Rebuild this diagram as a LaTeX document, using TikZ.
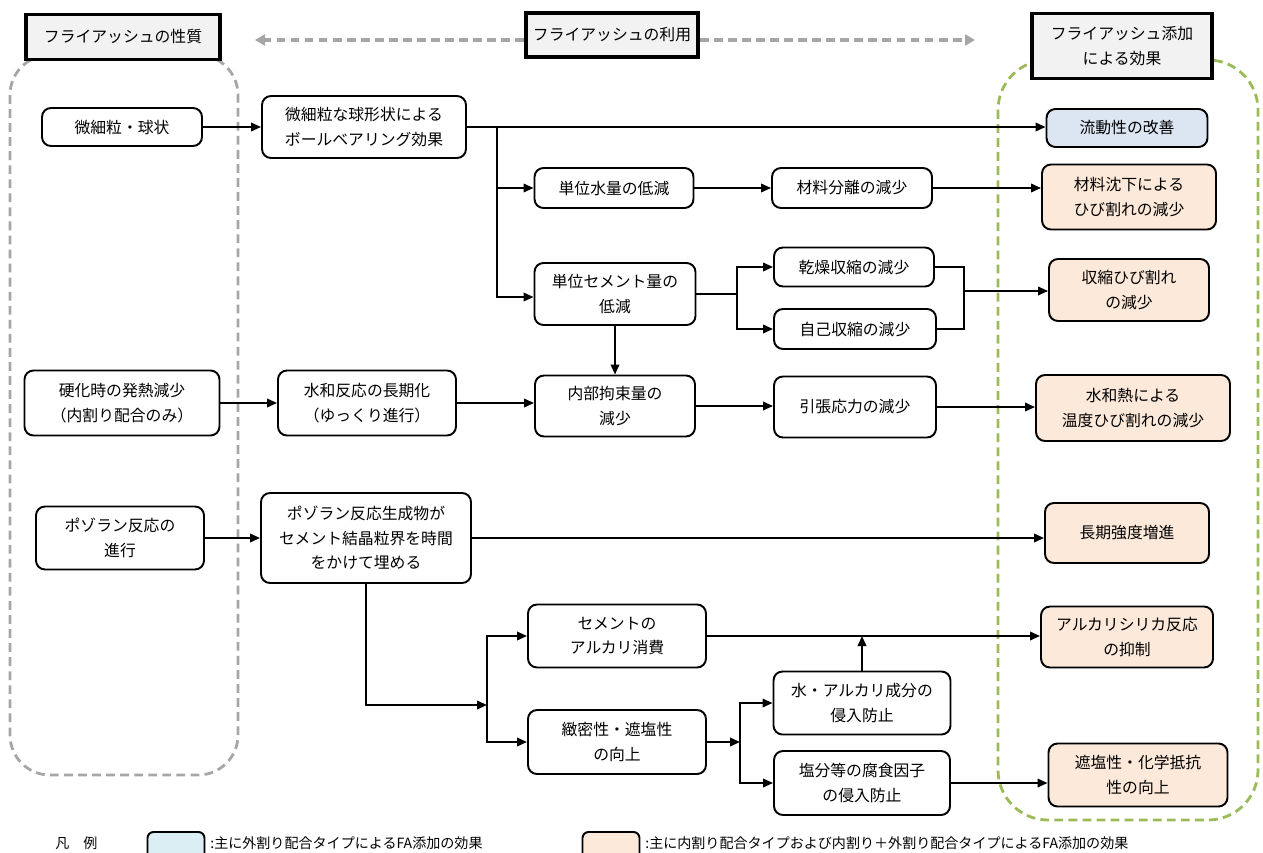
\documentclass[tikz,border=0pt]{standalone}
\usepackage{fontspec}
\setmainfont{Noto Sans CJK JP}
\usetikzlibrary{arrows.meta}
\definecolor{hdrfill}{HTML}{F2F2F2}
\definecolor{bluefill}{HTML}{DCE6F2}
\definecolor{legblue}{HTML}{DBEEF4}
\definecolor{peach}{HTML}{FDE9D9}
\definecolor{greendash}{HTML}{9BBB59}
\definecolor{graydash}{HTML}{A6A6A6}
\tikzset{
  sz/.style 2 args={minimum width=#1*0.02cm, minimum height=#2*0.02cm},
  box/.style={draw=black, line width=1.1pt, rounded corners=0.18cm, fill=white,
    align=center, inner sep=0pt, font=\fontsize{9}{14}\selectfont},
  hdr/.style={draw=black, line width=2pt, fill=hdrfill, align=center, inner sep=0pt,
    font=\fontsize{9}{14}\selectfont},
  conn/.style={line width=1.1pt, draw=black},
  arr/.style={conn, -{Triangle[length=2mm,width=1.7mm]}},
  grayarr/.style={draw=graydash, line width=2pt, dash pattern=on 5pt off 3pt,
    -{Triangle[length=2mm,width=2.2mm]}},
  legtext/.style={anchor=west, inner sep=0pt, font=\fontsize{8}{10}\selectfont},
}
\begin{document}
\begin{tikzpicture}[x=0.02cm,y=-0.02cm]
\useasboundingbox (0,0) rectangle (1263,852);
% containers
\draw[graydash, line width=1.6pt, dash pattern=on 5pt off 3pt, rounded corners=0.8cm] (10,55) rectangle (238,775);
\draw[greendash, line width=1.6pt, dash pattern=on 5pt off 3pt, rounded corners=1cm] (998,60) rectangle (1258,820);
% headers
\node[hdr, sz={194}{45}] (H1) at (123,37) {フライアッシュの性質};
\node[hdr, sz={172}{44}] (H2) at (612,35) {フライアッシュの利用};
\node[hdr, sz={180}{65}] (H3) at (1122,46) {フライアッシュ添加\\による効果};
\coordinate (ga) at (255,40);
\coordinate (gb) at (975,40);
\draw[grayarr] (H2.west |- ga) -- (ga);
\draw[grayarr] (H2.east |- gb) -- (gb);
% nodes
\node[box, sz={160}{38}] (A1) at (122,127) {微細粒・球状};
\node[box, sz={204}{62}] (B1) at (364,127) {微細粒な球形状による\\ボールベアリング効果};
\node[box, sz={161}{38}, fill=bluefill] (E1) at (1127,128) {流動性の改善};
\node[box, sz={159}{40}] (C1) at (614,188) {単位水量の低減};
\node[box, sz={160}{40}] (D1) at (852,188) {材料分離の減少};
\node[box, sz={174}{65}, fill=peach] (E2) at (1129,197) {材料沈下による\\ひび割れの減少};
\node[box, sz={161}{62}] (C2) at (615,294) {単位セメント量の\\低減};
\node[box, sz={160}{39}] (D2) at (854,267) {乾燥収縮の減少};
\node[box, sz={162}{40}] (D3) at (855,329) {自己収縮の減少};
\node[box, sz={160}{62}, fill=peach] (E3) at (1129,290) {収縮ひび割れ\\の減少};
\node[box, sz={195}{65}] (A2) at (122,403) {硬化時の発熱減少\\（内割り配合のみ）};
\node[box, sz={178}{65}] (B2) at (367,403) {水和反応の長期化\\（ゆっくり進行）};
\node[box, sz={160}{61}] (C3) at (615,406) {内部拘束量の\\減少};
\node[box, sz={162}{61}] (D4) at (855,407) {引張応力の減少};
\node[box, sz={194}{66}, fill=peach] (E4) at (1133,408) {水和熱による\\温度ひび割れの減少};
\node[box, sz={168}{63}] (A3) at (120,538) {ポゾラン反応の\\進行};
\node[box, sz={210}{90}] (B3) at (366,538) {ポゾラン反応生成物が\\セメント結晶粒界を時間\\をかけて埋める};
\node[box, sz={164}{60}, fill=peach] (E5) at (1127,533) {長期強度増進};
\node[box, sz={178}{63}] (C4) at (617,636) {セメントの\\アルカリ消費};
\node[box, sz={172}{61}, fill=peach] (E6) at (1127,637) {アルカリシリカ反応\\の抑制};
\node[box, sz={177}{63}] (D5) at (862,703) {水・アルカリ成分の\\侵入防止};
\node[box, sz={178}{64}] (C5) at (617,742) {緻密性・遮塩性\\の向上};
\node[box, sz={176}{64}] (D6) at (862,783) {塩分等の腐食因子\\の侵入防止};
\node[box, sz={179}{63}, fill=peach] (E7) at (1138,775) {遮塩性・化学抵抗\\性の向上};
% connectors
\draw[arr] (A1.east) -- (A1.east -| B1.west);
\draw[arr] (B1.east) -- (B1.east -| E1.west);
\coordinate (j1) at (497,127);
\draw[arr] (j1) |- (C1.west);
\draw[arr] (j1) |- ([yshift=-3*0.02cm]C2.west);
\draw[arr] (C1.east) -- (D1.west);
\draw[arr] (D1.east) -- (D1.east -| E2.west);
\coordinate (j2) at (737,294);
\draw[conn] (C2.east) -- (j2);
\draw[arr] (j2) |- (D2.west);
\draw[arr] (j2) |- (D3.west);
\coordinate (j3) at (964,291);
\draw[conn] (D2.east) -| (j3);
\draw[conn] (D3.east) -| (j3);
\draw[arr] (j3) -- (j3 -| E3.west);
\draw[arr] (C2.south) -- (C3.north);
\draw[arr] (A2.east) -- (A2.east -| B2.west);
\draw[arr] (B2.east) -- (B2.east -| C3.west);
\draw[arr] (C3.east) -- (C3.east -| D4.west);
\draw[arr] (D4.east) -- (D4.east -| E4.west);
\draw[arr] (A3.east) -- (A3.east -| B3.west);
\draw[arr] (B3.east) -- (B3.east -| E5.west);
\coordinate (j4) at (487,705);
\draw[arr] (B3.south) |- (j4);
\draw[arr] (j4) |- (C4.west);
\draw[arr] (j4) |- (C5.west);
\draw[arr] (C4.east) -- (C4.east -| E6.west);
\draw[arr] (D5.north) -- (D5.north |- C4.east);
\coordinate (j5) at (740,742);
\draw[arr] (C5.east) -- (j5);
\draw[arr] (j5) |- (D5.west);
\draw[arr] (j5) |- (D6.west);
\draw[arr] (D6.east) -- (D6.east -| E7.west);
% legend
\node[legtext] (L0) at (55,843) {凡\quad 例};
\node[box, sz={57}{40}, fill=legblue, rounded corners=0.12cm] (LB1) at (176,852) {};
\node[legtext] (L1) at (210,843) {:主に外割り配合タイプによるFA添加の効果};
\node[box, sz={57}{40}, fill=peach, rounded corners=0.12cm] (LB2) at (611,852) {};
\node[legtext] (L2) at (645,843) {:主に内割り配合タイプおよび内割り＋外割り配合タイプによるFA添加の効果};
\end{tikzpicture}
\end{document}
